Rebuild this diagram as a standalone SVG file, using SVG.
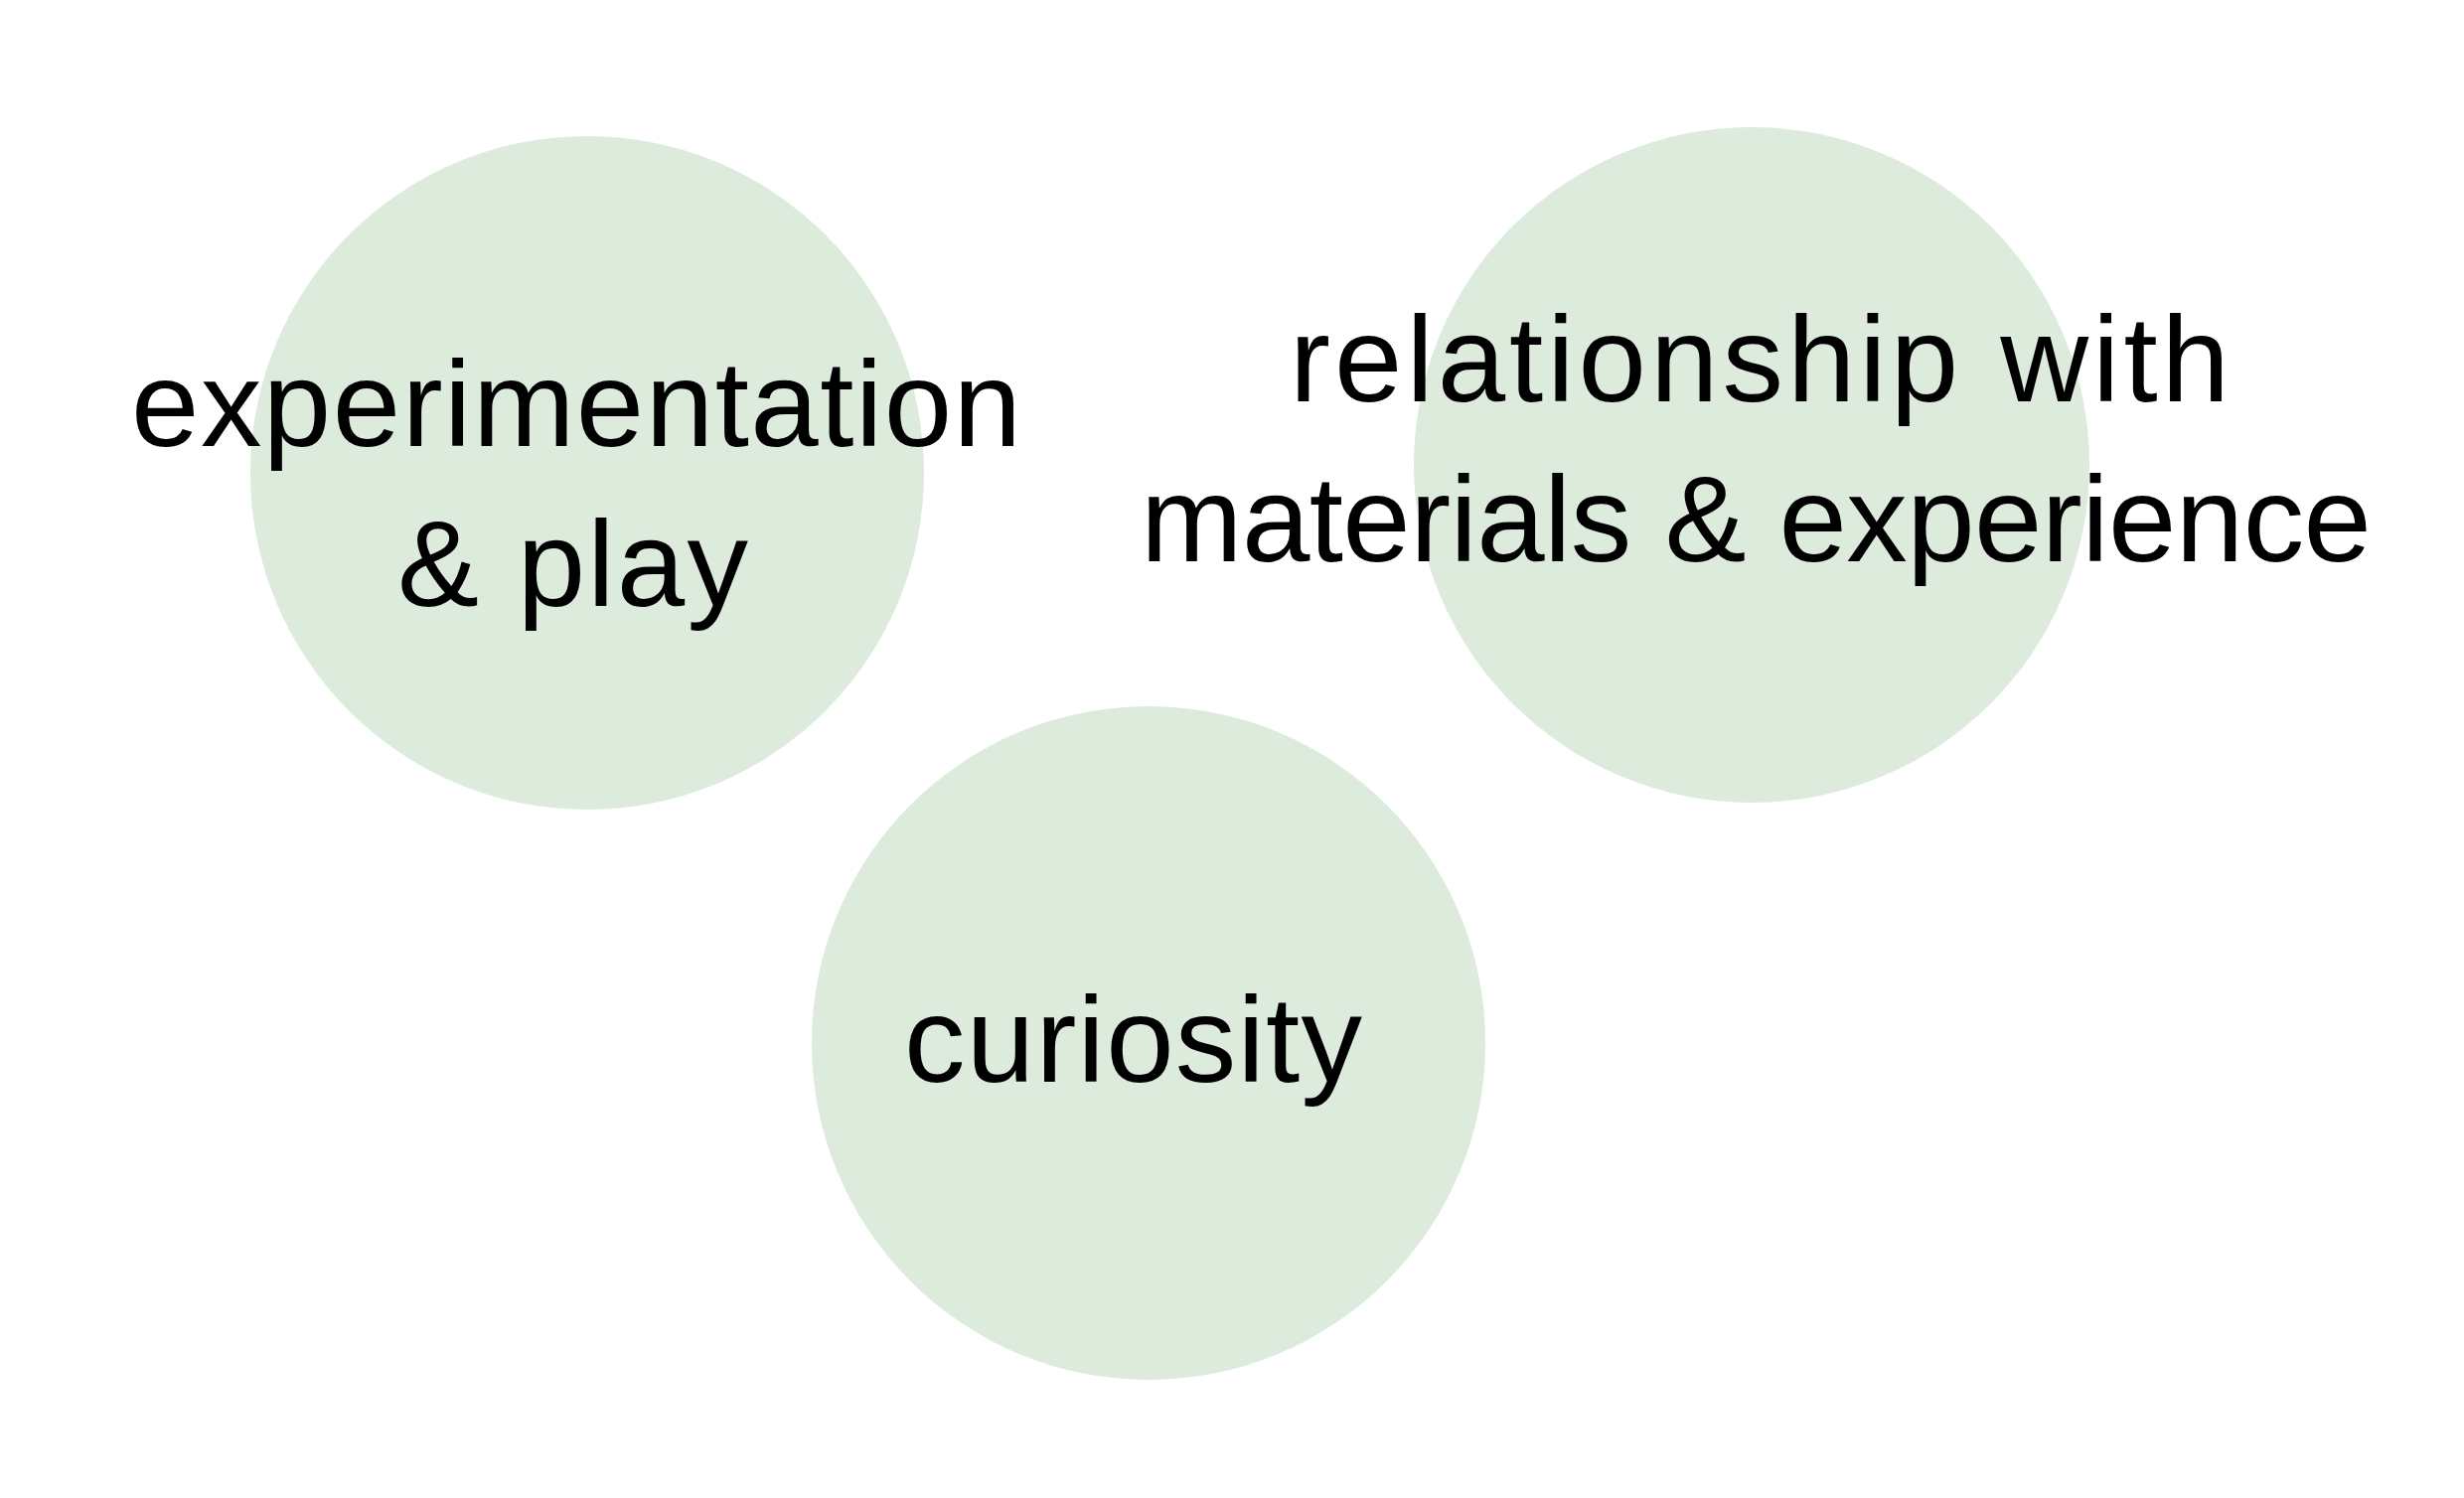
<svg xmlns="http://www.w3.org/2000/svg" width="2480" height="1508" viewBox="0 0 2480 1508">
<style>
.bubble{fill:#dcebdb}
.lbl{font-family:"Liberation Sans","Noto Sans",Arial,sans-serif;font-size:123px;fill:#000}
</style>
<rect width="2480" height="1508" fill="#ffffff"/>
<g id="node-experimentation">
<circle class="bubble" cx="591" cy="476" r="339"/>
<text class="lbl" x="132" y="449" textLength="896" lengthAdjust="spacing">experimentation</text>
<text class="lbl" x="400" y="610" textLength="353" lengthAdjust="spacing">&amp; play</text>
</g>
<g id="node-relationship">
<circle class="bubble" cx="1763" cy="468" r="340"/>
<text class="lbl" x="1298" y="404" textLength="946" lengthAdjust="spacing">relationship with</text>
<text class="lbl" x="1148" y="565" textLength="1239" lengthAdjust="spacing">materials &amp; experience</text>
</g>
<g id="node-curiosity">
<circle class="bubble" cx="1156" cy="1050" r="339"/>
<text class="lbl" x="910" y="1089" textLength="461" lengthAdjust="spacing">curiosity</text>
</g>
<g id="connectors"/>
</svg>
